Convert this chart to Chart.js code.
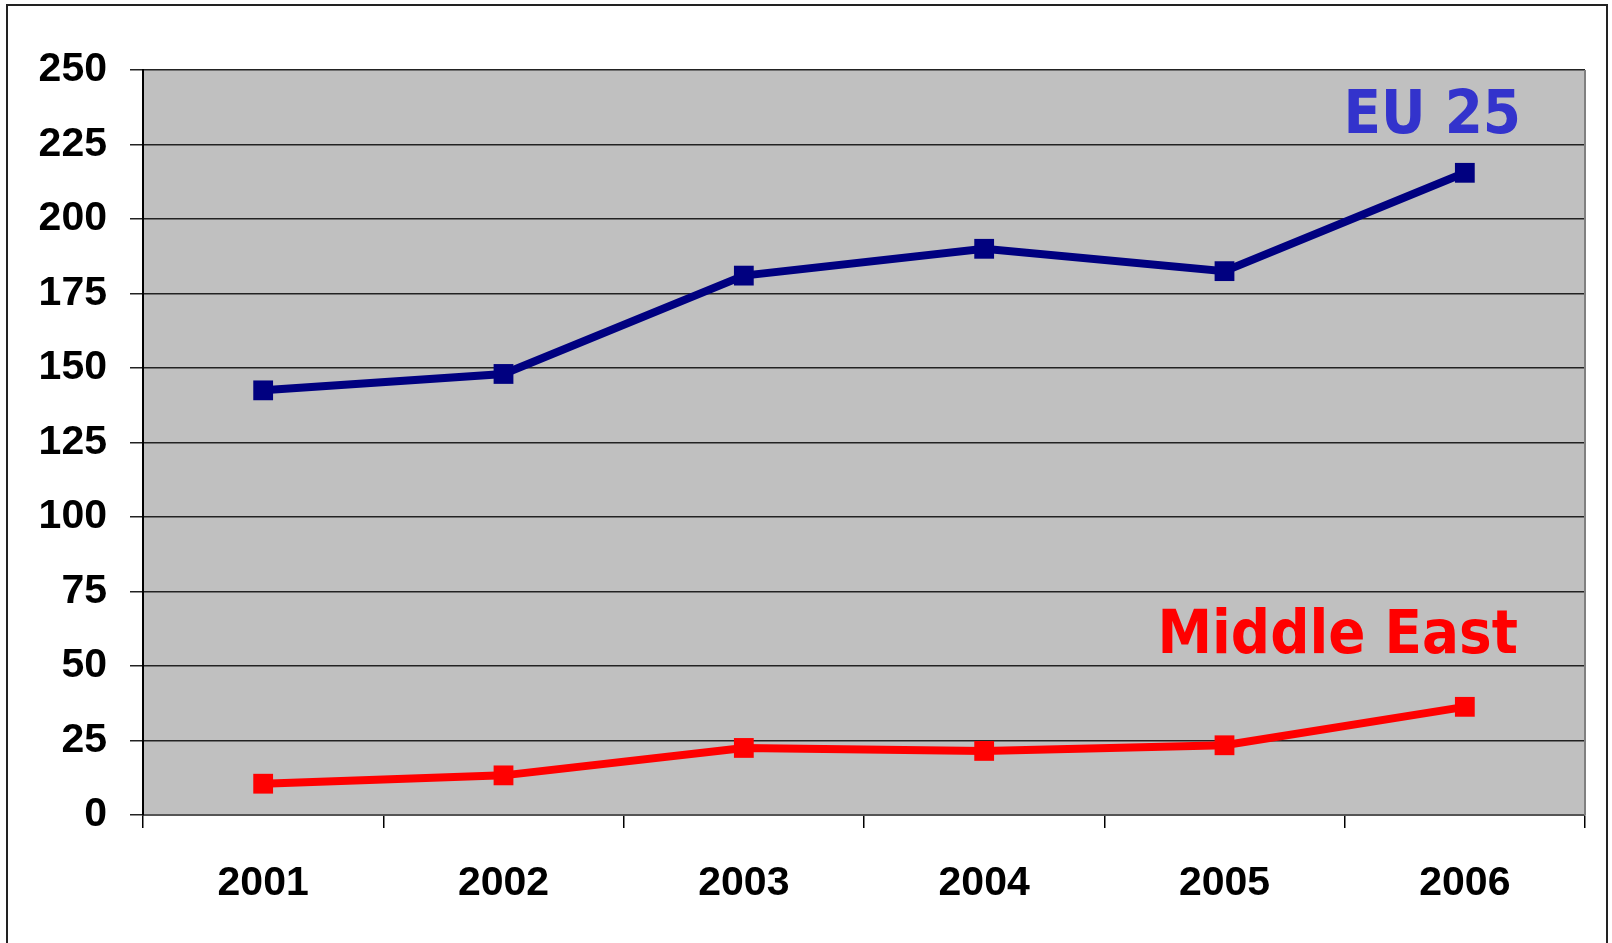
<!DOCTYPE html>
<html>
<head>
<meta charset="utf-8">
<script src="https://cdn.jsdelivr.net/npm/chart.js@4"></script>
<style>
  body { margin: 0; background: #fff; overflow: hidden; }
  #frame {
    position: absolute; left: 6px; top: 4px;
    width: 1598px; height: 960px;
    border: 2px solid #222;
  }
  #wrap { position: relative; width: 1598px; height: 937px; }
</style>
</head>
<body>
<div id="frame"><div id="wrap"><canvas id="chart"></canvas></div></div>
<script>
// data
const years = ['2001', '2002', '2003', '2004', '2005', '2006'];
const eu25 = [142.5, 148, 181, 190, 182.5, 215.5];
const middleEast = [10.5, 13.3, 22.5, 21.5, 23.4, 36.3];
const yMin = 0;
const yMax = 250;
const yStep = 25;

// grey plot background + right border
const plotBox = {
  id: 'plotBox',
  beforeDraw(chart) {
    const a = chart.chartArea;
    const ctx = chart.ctx;
    ctx.save();
    ctx.fillStyle = '#c0c0c0';
    ctx.fillRect(a.left, a.top, a.right - a.left, a.bottom - a.top);
    ctx.restore();
  },
  afterDatasetsDraw(chart) {
    const a = chart.chartArea;
    const ctx = chart.ctx;
    ctx.save();
    ctx.strokeStyle = '#808080';
    ctx.lineWidth = 2;
    ctx.beginPath();
    ctx.moveTo(a.right, a.top);
    ctx.lineTo(a.right, a.bottom);
    ctx.stroke();
    ctx.restore();
  }
};

// the two series names written inside the plot
const seriesNames = {
  id: 'seriesNames',
  afterDatasetsDraw(chart) {
    const a = chart.chartArea;
    const ctx = chart.ctx;
    ctx.save();
    ctx.font = 'bold 61px "DejaVu Sans Condensed", "DejaVu Sans", sans-serif';
    ctx.textAlign = 'right';
    ctx.textBaseline = 'alphabetic';
    ctx.fillStyle = '#3333cc';
    ctx.fillText('EU 25', a.right - 64, a.top + 63);
    ctx.fillStyle = '#ff0000';
    ctx.fillText('Middle East', a.right - 67, a.top + 583);
    ctx.restore();
  }
};

new Chart(document.getElementById('chart'), {
  type: 'line',
  data: {
    labels: years,
    datasets: [
      {
        label: 'EU 25',
        data: eu25,
        borderColor: '#000080',
        backgroundColor: '#000080',
        borderWidth: 8,
        pointStyle: 'rect',
        pointRadius: 14,
        pointBorderWidth: 0,
        tension: 0
      },
      {
        label: 'Middle East',
        data: middleEast,
        borderColor: '#ff0000',
        backgroundColor: '#ff0000',
        borderWidth: 8,
        pointStyle: 'rect',
        pointRadius: 14,
        pointBorderWidth: 0,
        tension: 0
      }
    ]
  },
  options: {
    responsive: true,
    maintainAspectRatio: false,
    animation: false,
    layout: { padding: { top: 64, right: 21, left: 0, bottom: 0 } },
    plugins: {
      legend: { display: false },
      tooltip: { enabled: false }
    },
    scales: {
      x: {
        offset: true,
        grid: {
          offset: true,
          drawOnChartArea: false,
          drawTicks: true,
          tickLength: 13,
          color: '#000',
          lineWidth: 1.5
        },
        border: { color: '#555', width: 2 },
        ticks: {
          color: '#000',
          padding: 31,
          font: { family: '"Liberation Sans", Arial, sans-serif', size: 41, weight: 'bold' }
        },
        afterFit(scale) { scale.height = 128; }
      },
      y: {
        min: yMin,
        max: yMax,
        grid: {
          color: '#222',
          lineWidth: 1.5,
          tickLength: 13
        },
        border: { color: '#000', width: 2 },
        ticks: {
          stepSize: yStep,
          color: '#000',
          padding: 23,
          font: { family: '"Liberation Sans", Arial, sans-serif', size: 41, weight: 'bold' }
        },
        afterFit(scale) { scale.width = 135; }
      }
    }
  },
  plugins: [plotBox, seriesNames]
});
</script>
</body>
</html>
